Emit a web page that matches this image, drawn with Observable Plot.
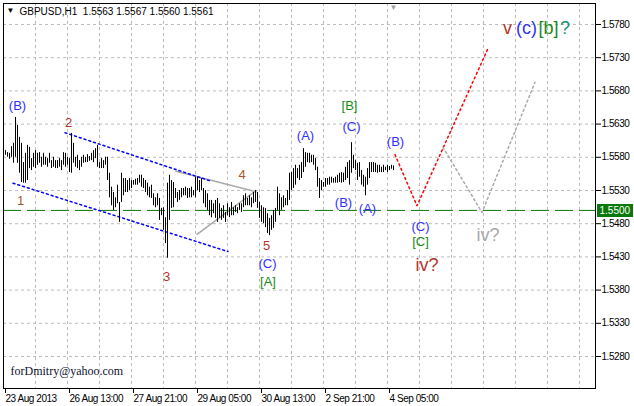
<!DOCTYPE html>
<html><head><meta charset="utf-8">
<script src="https://cdn.jsdelivr.net/npm/d3@7"></script>
<script src="https://cdn.jsdelivr.net/npm/@observablehq/plot@0.6"></script>
<style>
body{margin:0;background:#fff;overflow:hidden}
#chart svg{display:block}
#chart g[aria-label="x-axis tick label"] text, #chart g[aria-label="y-axis tick label"] text{letter-spacing:-0.45px}
</style>
</head><body><div id="chart"></div>
<script>
// ---- data: GBPUSD H1 bars (high / low), one per hourly bar, bar index 0..194 ----
const highs = [
1.5590,1.5587,1.5586,1.5596,1.5601,1.5640,1.5628,1.5610,1.5601,1.5572,
1.5586,1.5598,1.5595,1.5578,1.5586,1.5590,1.5586,1.5587,1.5580,1.5586,
1.5580,1.5578,1.5586,1.5575,1.5580,1.5575,1.5575,1.5578,1.5575,1.5587,
1.5586,1.5580,1.5578,1.5616,1.5601,1.5580,1.5583,1.5575,1.5580,1.5583,
1.5580,1.5584,1.5581,1.5586,1.5590,1.5593,1.5598,1.5572,1.5578,1.5575,
1.5580,1.5580,1.5556,1.5535,1.5527,1.5519,1.5538,1.5512,1.5556,1.5548,
1.5548,1.5545,1.5548,1.5545,1.5545,1.5547,1.5548,1.5553,1.5553,1.5548,
1.5545,1.5541,1.5535,1.5538,1.5525,1.5519,1.5525,1.5518,1.5503,1.5504,
1.5489,1.5541,1.5553,1.5545,1.5542,1.5533,1.5527,1.5530,1.5533,1.5533,
1.5535,1.5533,1.5533,1.5535,1.5530,1.5550,1.5550,1.5545,1.5548,1.5533,
1.5530,1.5525,1.5515,1.5515,1.5510,1.5515,1.5518,1.5510,1.5503,1.5507,
1.5497,1.5510,1.5504,1.5512,1.5504,1.5507,1.5504,1.5510,1.5510,1.5522,
1.5525,1.5518,1.5522,1.5519,1.5527,1.5530,1.5527,1.5512,1.5507,1.5504,
1.5503,1.5495,1.5488,1.5492,1.5500,1.5503,1.5535,1.5525,1.5519,1.5522,
1.5518,1.5530,1.5556,1.5557,1.5563,1.5568,1.5563,1.5568,1.5572,1.5593,
1.5587,1.5586,1.5586,1.5583,1.5583,1.5578,1.5565,1.5548,1.5545,1.5542,
1.5548,1.5548,1.5550,1.5550,1.5548,1.5550,1.5553,1.5556,1.5557,1.5556,
1.5565,1.5572,1.5575,1.5602,1.5583,1.5575,1.5571,1.5572,1.5560,1.5553,
1.5550,1.5563,1.5572,1.5572,1.5572,1.5571,1.5568,1.5568,1.5565,1.5568,
1.5565,1.5568,1.5566,1.5568,1.5567];
const lows = [
1.5583,1.5580,1.5577,1.5580,1.5571,1.5580,1.5571,1.5556,1.5542,1.5541,
1.5541,1.5545,1.5563,1.5560,1.5565,1.5563,1.5568,1.5571,1.5565,1.5568,
1.5568,1.5565,1.5571,1.5563,1.5565,1.5563,1.5563,1.5565,1.5560,1.5568,
1.5565,1.5568,1.5557,1.5556,1.5571,1.5565,1.5563,1.5560,1.5565,1.5571,
1.5572,1.5572,1.5574,1.5575,1.5572,1.5578,1.5565,1.5563,1.5563,1.5563,
1.5568,1.5545,1.5519,1.5507,1.5500,1.5504,1.5510,1.5482,1.5512,1.5522,
1.5527,1.5527,1.5530,1.5533,1.5538,1.5538,1.5538,1.5541,1.5535,1.5533,
1.5527,1.5522,1.5519,1.5518,1.5507,1.5504,1.5507,1.5485,1.5492,1.5470,
1.5450,1.5428,1.5485,1.5503,1.5504,1.5518,1.5512,1.5515,1.5519,1.5522,
1.5522,1.5518,1.5519,1.5519,1.5522,1.5519,1.5530,1.5527,1.5530,1.5510,
1.5504,1.5500,1.5492,1.5489,1.5495,1.5488,1.5482,1.5488,1.5485,1.5488,
1.5482,1.5492,1.5489,1.5492,1.5492,1.5497,1.5495,1.5500,1.5497,1.5504,
1.5507,1.5507,1.5507,1.5504,1.5510,1.5512,1.5503,1.5488,1.5482,1.5480,
1.5474,1.5465,1.5462,1.5470,1.5473,1.5482,1.5500,1.5492,1.5500,1.5504,
1.5507,1.5507,1.5515,1.5530,1.5533,1.5538,1.5548,1.5545,1.5548,1.5557,
1.5565,1.5572,1.5571,1.5572,1.5568,1.5560,1.5535,1.5518,1.5530,1.5535,
1.5535,1.5538,1.5538,1.5541,1.5541,1.5541,1.5541,1.5542,1.5541,1.5542,
1.5545,1.5548,1.5538,1.5556,1.5563,1.5560,1.5545,1.5550,1.5538,1.5535,
1.5522,1.5538,1.5548,1.5557,1.5557,1.5557,1.5556,1.5557,1.5557,1.5557,
1.5560,1.5557,1.5560,1.5562,1.5560];

const titleText = "GBPUSD,H1  1.5563 1.5567 1.5560 1.5561";
const watermark = "forDmitry@yahoo.com";
const levelPrice = 1.5500;

// axis ticks
const yTicks = [1.5280,1.5330,1.5380,1.5430,1.5480,1.5530,1.5580,1.5630,1.5680,1.5730,1.5780];
const xTickIdx = [-1, 31, 63, 95, 127, 159, 191];
const xTickLabels = ["23 Aug 2013","26 Aug 13:00","27 Aug 21:00","29 Aug 05:00","30 Aug 13:00","2 Sep 21:00","4 Sep 05:00"];
const xGridIdx = [15,31,47,63,79,95,111,127,143,159,175,191,207,223,239,255,271,287];

// trend lines (bar index, price)
const blueUpper = [{i:29.75,p:1.5617},{i:102.75,p:1.5544}];
const blueLower = [{i:3.75,p:1.5541},{i:111.25,p:1.5438}];
const triUpper  = [{i:85.25,p:1.5559},{i:125.25,p:1.5528}];
const triLower  = [{i:95.75,p:1.5464},{i:125.25,p:1.5530}];
const redPath   = [{i:194.75,p:1.5584},{i:205.75,p:1.5507},{i:241.25,p:1.5744}];
const grayPath  = [{i:218.75,p:1.5595},{i:238.25,p:1.5497},{i:264.75,p:1.5693}];

// wave labels (bar index, price)
const blueLabels = [
  {t:"(B)",i:6,p:1.5657},{t:"(C)",i:131,p:1.5420},{t:"(A)",i:150,p:1.5613},
  {t:"(C)",i:173,p:1.5626},{t:"(B)",i:195,p:1.5604},{t:"(B)",i:169,p:1.5512},
  {t:"(A)",i:181,p:1.5502},{t:"(C)",i:207.5,p:1.5476}];
const greenLabels = [{t:"[A]",i:131.25,p:1.5392},{t:"[B]",i:172,p:1.5657},{t:"[C]",i:207.5,p:1.5453}];
const redNumLabels = [{t:"2",i:31.5,p:1.5632},{t:"3",i:80.5,p:1.5400},{t:"5",i:130.5,p:1.5447}];
const brownNumLabels = [{t:"1",i:7.5,p:1.5515},{t:"4",i:118.25,p:1.5553}];
const bigRed = [{t:"iv?",i:210.75,p:1.5417}];
const bigGray = [{t:"iv?",i:241.25,p:1.5462}];
const topV = [{t:"v",i:251,p:1.5775}];
const topC = [{t:"(c)",i:260.5,p:1.5775}];
const topB = [{t:"[b]",i:271.5,p:1.5775}];
const topQ = [{t:"?",i:279.75,p:1.5775}];
// price marker box on the right axis, in bar-index units
const levelBox = [{i1:296, i2:314, p:levelPrice}];

const bars = highs.map((h, k) => ({i: k, high: h, low: lows[k]}));
const labelMap = new Map(xTickIdx.map((d, k) => [d, xTickLabels[k]]));

const BLUE = "#3030ff", GREEN = "#1a8a1a", RED = "#b8322a", BROWN = "#a8562a", GRID = "#bcbcbc", LVL = "#0a780a";
const F = "Liberation Sans, Arial, sans-serif";

const plot = Plot.plot({
  width: 634, height: 406,
  marginLeft: 3, marginRight: 39, marginTop: 3, marginBottom: 18,
  x: {domain: [-1, 295], axis: null},
  y: {domain: [1.52318, 1.58116], axis: null},
  style: {fontFamily: F, fontSize: "10px", background: "white", color: "black", overflow: "visible"},
  marks: [
    Plot.ruleX(xGridIdx, {stroke: GRID, strokeDasharray: "3,3"}),
    Plot.ruleY(yTicks, {stroke: GRID, strokeDasharray: "3,3"}),
    Plot.ruleY([levelPrice], {stroke: LVL, strokeDasharray: "18,6"}),
    Plot.line(triUpper, {x: "i", y: "p", stroke: "#a8a8a8"}),
    Plot.line(triLower, {x: "i", y: "p", stroke: "#a8a8a8"}),
    Plot.line(blueUpper, {x: "i", y: "p", stroke: "#0000ff", strokeDasharray: "2,3"}),
    Plot.line(blueLower, {x: "i", y: "p", stroke: "#0000ff", strokeDasharray: "2,3"}),
    Plot.line(redPath, {x: "i", y: "p", stroke: "#ff0000", strokeDasharray: "2,3"}),
    Plot.line(grayPath, {x: "i", y: "p", stroke: "#a8a8a8", strokeDasharray: "2,3"}),
    Plot.ruleX(bars, {x: "i", y1: "low", y2: "high", stroke: "black"}),
    Plot.frame({stroke: "black"}),
    Plot.axisY({anchor: "right", ticks: yTicks, tickFormat: d => d.toFixed(4), tickSize: 5, tickPadding: 1, fontSize: 10}),
    Plot.axisX({ticks: xTickIdx, tickFormat: d => labelMap.get(d), tickSize: 5, tickPadding: 1, textAnchor: "start", dx: 2, fontSize: 10}),
    Plot.ruleY(levelBox, {x1: "i1", x2: "i2", y: "p", stroke: LVL, strokeWidth: 13}),
    Plot.text(levelBox, {x: "i1", y: "p", text: d => d.p.toFixed(4), textAnchor: "start", dx: 2, fill: "white", fontSize: 10}),
    Plot.text(blueLabels, {x: "i", y: "p", text: "t", fill: BLUE, fontSize: 13}),
    Plot.text(greenLabels, {x: "i", y: "p", text: "t", fill: GREEN, fontSize: 13}),
    Plot.text(redNumLabels, {x: "i", y: "p", text: "t", fill: RED, fontSize: 13}),
    Plot.text(brownNumLabels, {x: "i", y: "p", text: "t", fill: BROWN, fontSize: 13}),
    Plot.text(bigRed, {x: "i", y: "p", text: "t", fill: RED, fontSize: 18}),
    Plot.text(bigGray, {x: "i", y: "p", text: "t", fill: "#a8a8a8", fontSize: 18}),
    Plot.text(topV, {x: "i", y: "p", text: "t", fill: RED, fontSize: 18}),
    Plot.text(topC, {x: "i", y: "p", text: "t", fill: BLUE, fontSize: 18}),
    Plot.text(topB, {x: "i", y: "p", text: "t", fill: GREEN, fontSize: 18}),
    Plot.text(topQ, {x: "i", y: "p", text: "t", fill: "#1a9070", fontSize: 18}),
    Plot.text([titleText], {frameAnchor: "top-left", textAnchor: "start", lineAnchor: "middle", dx: 16, dy: 8, fill: "black", fontSize: 10}),
    Plot.text(["▼"], {frameAnchor: "top-left", textAnchor: "start", lineAnchor: "middle", dx: 3, dy: 7, fill: "black", fontSize: 8}),
    Plot.text([watermark], {frameAnchor: "bottom-left", textAnchor: "start", lineAnchor: "middle", dx: 7, dy: -17, fill: "#101030", fontSize: 12, fontFamily: "Liberation Serif, Times New Roman, serif"}),
    Plot.text([bars[bars.length - 1]], {x: "i", frameAnchor: "top", text: () => "▼", lineAnchor: "middle", dy: 4, fill: "#a0a0a0", fontSize: 8})
  ]
});

document.getElementById("chart").append(plot);
</script>
</body></html>
